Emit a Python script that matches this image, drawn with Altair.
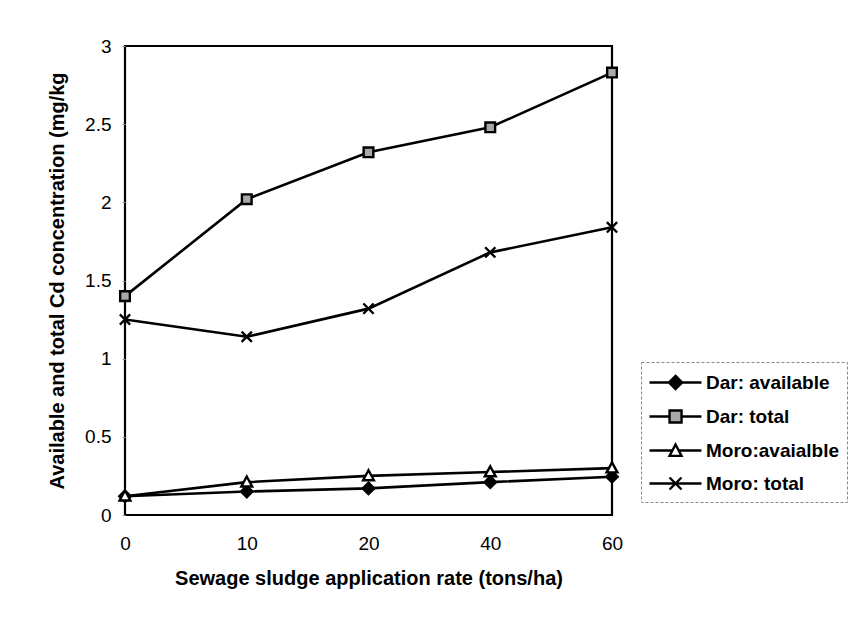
import altair as alt
import pandas as pd

rates = ["0", "10", "20", "40", "60"]
series_names = ["Dar: available", "Dar: total", "Moro:avaialble", "Moro: total"]
dar_available = [0.12, 0.15, 0.17, 0.21, 0.245]
dar_total = [1.40, 2.02, 2.32, 2.48, 2.83]
moro_available = [0.12, 0.21, 0.25, 0.275, 0.30]
moro_total = [1.25, 1.14, 1.32, 1.68, 1.84]

values = [dar_available, dar_total, moro_available, moro_total]
rows = []
for name, vals in zip(series_names, values):
    for r, v in zip(rates, vals):
        rows.append({"rate": r, "value": v, "series": name})
df = pd.DataFrame(rows)

FONT = "Liberation Sans"

marker_paths = [
    "M0,-1L1,0L0,1L-1,0Z",
    "M-0.85,-0.85L0.85,-0.85L0.85,0.85L-0.85,0.85Z",
    "M0,-1L0.95,0.75L-0.95,0.75Z",
    "M-0.9,-0.9L0.9,0.9M0.9,-0.9L-0.9,0.9",
]
fills = ["black", "#a8a8a8", "white", "transparent"]
strokes = ["black", "black", "black", "black"]

legend_paths = [
    "M-1,0L3.33,0M1.17,-0.55L1.72,0L1.17,0.55L0.62,0Z",
    "M-1,0L0.67,0M1.67,0L3.33,0M0.67,-0.5L1.67,-0.5L1.67,0.5L0.67,0.5Z",
    "M-1,0L0.91,0M1.43,0L3.33,0M1.17,-0.5L1.67,0.45L0.67,0.45Z",
    "M-1,0L3.33,0M0.67,-0.5L1.67,0.5M1.67,-0.5L0.67,0.5",
]

x_enc = alt.X(
    "rate:O",
    sort=rates,
    scale=alt.Scale(type="point", padding=0),
    axis=alt.Axis(
        title="Sewage sludge application rate (tons/ha)",
        labelAngle=0,
        labelFont=FONT,
        labelFontSize=19,
        labelColor="black",
        labelPadding=19,
        tickSize=0,
        domain=False,
        titleFont=FONT,
        titleFontSize=20,
        titleFontWeight="bold",
        titleColor="black",
        titlePadding=15,
    ),
)
y_enc = alt.Y(
    "value:Q",
    scale=alt.Scale(domain=[0, 3], nice=False, zero=True),
    axis=alt.Axis(
        title="Available and total Cd concentration (mg/kg",
        values=[0, 0.5, 1, 1.5, 2, 2.5, 3],
        format="~g",
        grid=False,
        domain=False,
        tickSize=3,
        tickColor="#999",
        labelFont=FONT,
        labelFontSize=19,
        labelColor="black",
        labelPadding=11,
        titleFont=FONT,
        titleFontSize=20,
        titleFontWeight="bold",
        titleColor="black",
        titlePadding=17,
    ),
)

base = alt.Chart(df)

lines = base.mark_line(color="black", strokeWidth=2.6).encode(
    x=x_enc, y=y_enc, detail="series:N"
)

points = base.mark_point(color="black", stroke="black", strokeWidth=2.4, size=130, opacity=1).encode(
    x=x_enc,
    y=y_enc,
    shape=alt.Shape("series:N", scale=alt.Scale(domain=series_names, range=marker_paths), legend=None),
    fill=alt.Fill("series:N", scale=alt.Scale(domain=series_names, range=fills), legend=None),
)

leg = alt.Legend(
    title=None,
    orient="none",
    legendX=516,
    legendY=316,
    padding=7,
    strokeColor="#888",
    fillColor="white",
    symbolSize=576,
    symbolStrokeWidth=2.4,
    symbolStrokeColor="black",
    symbolOpacity=1,
    labelOffset=31,
    labelFont=FONT,
    labelFontSize=19,
    labelFontWeight="bold",
    labelColor="black",
    rowPadding=9,
    labelLimit=300,
)

legend_layer = base.mark_point(color="black", stroke="black", strokeWidth=2.4, opacity=0).encode(
    x=x_enc,
    y=y_enc,
    shape=alt.Shape("series:N", scale=alt.Scale(domain=series_names, range=legend_paths), legend=leg),
    fill=alt.Fill("series:N", scale=alt.Scale(domain=series_names, range=fills), legend=leg),
    stroke=alt.Stroke("series:N", scale=alt.Scale(domain=series_names, range=strokes), legend=leg),
)

chart = (
    alt.layer(lines, points, legend_layer)
    .resolve_scale(shape="independent", fill="independent", stroke="independent")
    .properties(
        width=487,
        height=469,
        autosize=alt.AutoSizeParams(type="none"),
        padding={"left": 117, "top": 38, "right": 236, "bottom": 100},
        background="white",
    )
    .configure_view(stroke="black", strokeWidth=2.2)
    .configure_legend(strokeDash=[3, 2])
)

chart.save("out.html", embed_options={"renderer": "svg", "actions": False})
